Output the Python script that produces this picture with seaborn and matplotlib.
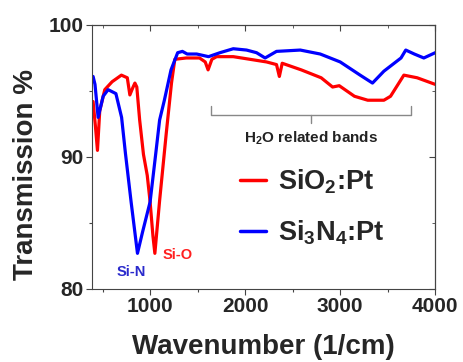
import numpy as np
import pandas as pd
import matplotlib
matplotlib.use("Agg")
import matplotlib.pyplot as plt
import seaborn as sns
from matplotlib.lines import Line2D

# FTIR transmission spectra
wn_sio2 = [400, 425, 446, 470, 523, 600, 698, 760, 787, 815, 840, 860, 890,
           930, 970, 1000, 1030, 1050, 1100, 1170, 1225, 1260, 1380, 1520,
           1580, 1610, 1650, 1700, 1875, 2225, 2330, 2360, 2390, 2590, 2800,
           2920, 2990, 3150, 3290, 3460, 3530, 3670, 3810, 4000]
t_sio2 = [94.2, 92.3, 90.5, 93.5, 95.1, 95.7, 96.2, 96.0, 94.7, 95.2, 95.6,
          95.3, 92.8, 90.2, 88.6, 86.6, 84.0, 82.7, 86.7, 91.8, 95.6, 97.4,
          97.5, 97.5, 97.2, 96.6, 97.4, 97.6, 97.6, 97.2, 97.0, 96.1, 97.1,
          96.6, 96.0, 95.3, 95.4, 94.6, 94.3, 94.3, 94.6, 96.2, 96.0, 95.5]

wn_si3n4 = [400, 420, 453, 506, 558, 640, 700, 740, 800, 867, 920, 1000,
            1060, 1100, 1150, 1220, 1290, 1340, 1390, 1490, 1615, 1735, 1875,
            2015, 2120, 2210, 2330, 2580, 2790, 3000, 3210, 3340, 3460, 3640,
            3690, 3780, 3880, 4000]
t_si3n4 = [96.1, 95.5, 93.0, 94.6, 95.1, 94.8, 93.0, 90.3, 86.6, 82.7, 84.3,
           86.6, 90.3, 92.8, 94.3, 96.6, 97.9, 98.0, 97.8, 97.8, 97.6, 97.9,
           98.2, 98.1, 97.9, 97.5, 98.0, 98.1, 97.8, 97.2, 96.2, 95.6, 96.5,
           97.5, 98.1, 97.8, 97.5, 97.9]

series_names = ["SiO$_2$:Pt", "Si$_3$N$_4$:Pt"]
series_colors = ["#ff0000", "#0000ff"]

# H2O bracket (wavenumber span, transmission levels)
bracket_x = [1640, 2690, 3740]
bracket_y = [93.85, 93.18, 92.6]

df = pd.concat([
    pd.DataFrame({"wn": wn_sio2, "T": t_sio2, "sample": series_names[0]}),
    pd.DataFrame({"wn": wn_si3n4, "T": t_si3n4, "sample": series_names[1]}),
])

sns.set_style("ticks")
plt.rcParams["font.family"] = ["Liberation Sans", "DejaVu Sans"]
plt.rcParams["font.weight"] = "bold"
plt.rcParams["mathtext.fontset"] = "custom"
plt.rcParams["mathtext.rm"] = "Liberation Sans:bold"
plt.rcParams["mathtext.it"] = "Liberation Sans:bold"
plt.rcParams["mathtext.bf"] = "Liberation Sans:bold"

fig = plt.figure(figsize=(4.63, 3.62), dpi=100)
ax = fig.add_axes([0.199, 0.2017, 0.741, 0.7293])

sns.lineplot(data=df, x="wn", y="T", hue="sample", palette=series_colors,
             linewidth=2.3, legend=False, ax=ax, sort=False)

ax.set_xlim(390, 4000)
ax.set_ylim(80, 100)
ax.set_xticks([1000, 2000, 3000, 4000])
ax.set_xticks([500, 1500, 2500, 3500], minor=True)
ax.set_yticks([80, 90, 100])
ax.set_yticks([85, 95], minor=True)
ax.tick_params(axis="both", which="both", direction="out", labelsize=15,
               width=0.8, color="#444444")
ax.tick_params(which="major", length=4, pad=2)
ax.tick_params(which="minor", length=2.5)
for lab in ax.get_xticklabels() + ax.get_yticklabels():
    lab.set_fontweight("bold")
for sp in ax.spines.values():
    sp.set_linewidth(0.8)
    sp.set_color("#444444")

# mirrored inward ticks on top and right
top = ax.secondary_xaxis("top")
top.set_xticks([1000, 2000, 3000, 4000])
top.set_xticks([500, 1500, 2500, 3500], minor=True)
top.tick_params(which="both", direction="in", labeltop=False, color="#444444")
top.tick_params(which="major", length=4)
top.tick_params(which="minor", length=2.5)
right = ax.secondary_yaxis("right")
right.set_yticks([80, 90, 100])
right.set_yticks([85, 95], minor=True)
right.tick_params(which="both", direction="in", labelright=False, color="#444444")
right.tick_params(which="major", length=4)
right.tick_params(which="minor", length=2.5)

ax.set_xlabel("Wavenumber (1/cm)", fontsize=20, fontweight="bold", labelpad=13)
ax.set_ylabel("Transmission %", fontsize=20, fontweight="bold")
ax.yaxis.set_label_coords(-0.155, 0.435)

# peak labels
ax.text(800, 81.3, "Si-N", color="#2a2acc", fontsize=10.5, fontweight="bold",
        ha="center", va="center")
ax.text(1290, 82.6, "Si-O", color="#ff2020", fontsize=10.5, fontweight="bold",
        ha="center", va="center")

# H2O bracket
ax.plot([bracket_x[0], bracket_x[0], bracket_x[2], bracket_x[2]],
        [bracket_y[0], bracket_y[1], bracket_y[1], bracket_y[0]],
        color="#888888", lw=1)
ax.plot([bracket_x[1], bracket_x[1]], [bracket_y[1], bracket_y[2]],
        color="#888888", lw=1)
ax.text(2690, 91.4, "H$_2$O related bands", color="#222222", fontsize=11,
        fontweight="bold", ha="center", va="center")

handles = [Line2D([], [], color=c, lw=2.5) for c in series_colors]
leg = ax.legend(handles, series_names, loc="center left",
                bbox_to_anchor=(0.36, 0.31), frameon=False,
                prop={"size": 19.5, "weight": "bold"}, handlelength=0.95,
                handletextpad=0.45, labelspacing=0.85)

fig.savefig("out.png", dpi=100)
